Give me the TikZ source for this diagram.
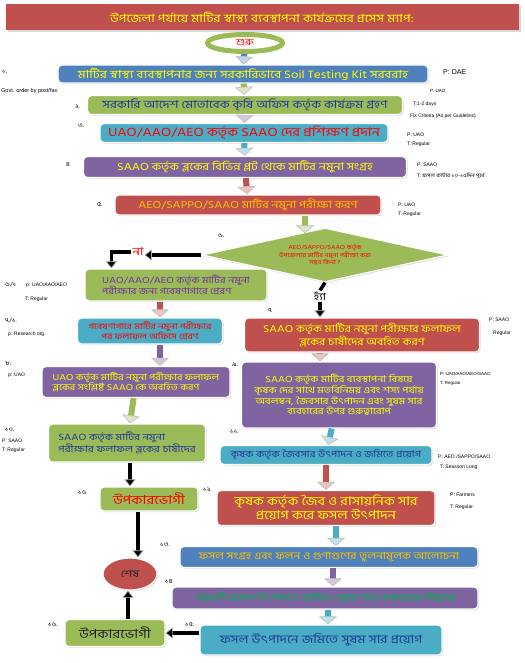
\documentclass[tikz,border=0pt]{standalone}
\usepackage{fontspec}
\setmainfont[Script=Bengali, FakeStretch=1.2]{Hind Siliguri}
\newfontfamily\sidefont{Liberation Sans}
\usepackage{tikz}
\usetikzlibrary{arrows.meta, positioning, shapes.geometric, shadows, calc}
\definecolor{blueb}{HTML}{4F81BD}
\definecolor{greenb}{HTML}{9BBB59}
\definecolor{aquab}{HTML}{4BACC6}
\definecolor{purpb}{HTML}{8064A2}
\definecolor{redb}{HTML}{C0504D}
\definecolor{txtyel}{HTML}{FFFF00}
\definecolor{txtora}{HTML}{FFC000}
\definecolor{txtblue}{HTML}{1F3A93}
\definecolor{txtpurp}{HTML}{7030A0}
\definecolor{txtgreen}{HTML}{00B050}
\newcommand{\fs}[1]{\fontsize{#1}{#1}\selectfont}

\begin{document}
\begin{tikzpicture}[x=1pt, y=-1pt,
  box/.style={rectangle, rounded corners=4pt, draw=white, line width=1.2pt, fill=#1,
              drop shadow={shadow xshift=1pt, shadow yshift=-1.2pt, fill=black!30},
              align=center, inner sep=1pt},
  flow/.style={line width=6pt, draw=#1,
               -{Triangle[width=18pt, length=8pt, line width=0.6pt, fill=#1!35, color=black!25]}},
  bflow/.style={line width=3.5pt, draw=black,
                -{Triangle[width=11pt, length=7pt, line width=0.6pt, fill=black, color=black!30]}},
  num/.style={anchor=west, inner sep=0pt, font=\fs{6}},
  side/.style={anchor=west, inner sep=0pt, font=\sidefont\fs{5}}]

  \useasboundingbox (0,0) rectangle (524,663);

  \node[num] (n1)  at (2,72)   {১.};
  \node[side, font=\sidefont\fs{5.5}] (gov) at (1,91) {Govt. order by post/fax};
  \node[side, font=\sidefont\fs{7}]   (p1)  at (443,72)  {P: DAE};
  \node[side, font=\sidefont\fs{4.5}] (p2)  at (430,91)  {P: UAO};
  \node[side] (t2)  at (413,104) {T:1-2 days};
  \node[side] (fx)  at (410,116) {Fix Criteria (As per Guidelins)};
  \node[num] (n2)  at (75,107)  {২.};
  \node[num] (n3)  at (78,126)  {৩.};
  \node[side] (p3)  at (407,135) {P: UAO};
  \node[side] (t3)  at (407,144) {T: Regular};
  \node[num] (n4)  at (66,165)  {৪};
  \node[side] (p4)  at (417,165) {P: SAAO};
  \node[num, font=\fs{5}] (t4) at (417,176) {{\sidefont T:} ফসল কাটার ১০-১৫দিন পূর্বে};
  \node[num] (n5)  at (97,205)  {৫.};
  \node[side] (p5)  at (398,205) {P: UAO};
  \node[side] (t5)  at (398,214) {T: Regular};
  \node[num] (n6)  at (218,236) {৬.};
  \node[num] (n61) at (5,285)   {৬/১};
  \node[side] (p61) at (26,285) {p: UAO/AAO/AEO};
  \node[side] (t61) at (25,299) {T: Regular};
  \node[num] (n71) at (5,321)   {৭/১.};
  \node[side] (p71) at (8,334)  {p: Research org.};
  \node[num] (n7)  at (268,311) {৭};
  \node[side] (p7)  at (489,320) {P: SAAO};
  \node[side] (t7)  at (493,333) {Regular};
  \node[num] (n8)  at (5,364)   {৮.};
  \node[side] (p8)  at (8,375)  {p: UAO};
  \node[num] (n9)  at (232,365) {৯.};
  \node[side, font=\sidefont\fs{4.5}] (p9) at (440,374) {P: UAO/AAO/AEO/SAAO};
  \node[side, font=\sidefont\fs{4.5}] (t9) at (440,383) {T: Regular};
  \node[num] (n10) at (5,430)   {১০.};
  \node[side] (p10) at (2,441)  {P: SAAO};
  \node[side] (t10) at (2,450)  {T: Regular};
  \node[num] (n11) at (230,432) {১১.};
  \node[side] (p11) at (438,457) {P: AEO /SAPPO/SAAO};
  \node[side] (t11) at (440,467) {T: Seasson Long};
  \node[num] (n16) at (78,493)  {১৬};
  \node[num] (n12) at (203,490) {১২.};
  \node[side] (p12) at (450,495) {P: Farmers};
  \node[side] (t12) at (450,507) {T: Regular};
  \node[num] (n13) at (160,545) {১৩.};
  \node[num] (n14) at (165,582) {১৪};
  \node[num] (n162) at (48,625) {১৬.};
  \node[num] (n15) at (185,625) {১৫.};

  \node[fill=redb, minimum width=513, minimum height=26, inner sep=0pt,
        drop shadow={shadow xshift=2pt, shadow yshift=-2pt, fill=black!30},
        text=txtyel, font=\fs{11.2}] (title) at (262,17.5)
        {উপজেলা পর্যায়ে মাটির স্বাস্থ্য ব্যবস্থাপনা কার্যক্রমের প্রসেস ম্যাপ:};

  \node[ellipse, draw=greenb, line width=5pt, fill=white, minimum width=75, minimum height=17,
        inner sep=0pt, text=red, font=\fs{9.5}] (start) at (245,43) {শুরু};

  \node[box=blueb, minimum width=370, minimum height=18, text=txtyel, font=\fs{11}]
        (kit) at (243,74) {মাটির স্বাস্থ্য  ব্যবস্থাপনার জন্য সরকারিভাবে Soil Testing Kit সরবরাহ};
  \node[box=greenb, minimum width=315, minimum height=19, text=txtblue, font=\fs{11}]
        (order) at (245,105) {সরকারি আদেশ মোতাবেক কৃষি অফিস কর্তৃক কার্যক্রম গ্রহণ};
  \node[box=aquab, minimum width=288, minimum height=19, text=red, font=\fs{12}]
        (train) at (244,133) {UAO/AAO/AEO কর্তৃক SAAO দের প্রশিক্ষণ প্রদান};
  \node[box=purpb, minimum width=323, minimum height=21, text=txtyel, font=\fs{10.5}]
        (collect) at (245,167) {SAAO কর্তৃক ব্লকের বিভিন্ন প্লট থেকে মাটির নমুনা সংগ্রহ};
  \node[box=redb, minimum width=266, minimum height=20, text=txtora, font=\fs{10.3}]
        (test) at (248,205) {AEO/SAPPO/SAAO মাটির নমুনা পরীক্ষা করণ};
  \node[diamond, draw=white, line width=1.2pt, fill=greenb, aspect=4.7, inner sep=0pt,
        minimum width=246, minimum height=54,
        drop shadow={shadow xshift=1pt, shadow yshift=-1.2pt, fill=black!30},
        text=red, align=center, font=\fs{5.8}] (dec) at (325,255)
        {AEO/SAPPO/SAAO কর্তৃক\\উপজেলায় মাটির নমুনা পরীক্ষা করা\\সম্ভব কিনা ?};
  \node[text=red, font=\fs{11}, inner sep=1pt] (na) at (138,252) {না};
  \node[font=\fs{10}, inner sep=1pt] (yes) at (320,296) {হ্যাঁ};

  \node[box=greenb, minimum width=182, minimum height=32, text=txtpurp, font=\fs{9}, align=left]
        (lab) at (176,285) {UAO/AAO/AEO কর্তৃক মাটির নমুনা\\পরীক্ষার জন্য গবেষণাগারে প্রেরণ};
  \node[box=aquab, minimum width=145, minimum height=26, text=red, font=\fs{8.2}]
        (labres) at (150,331) {গবেষণাগারে মাটির নমুনা পরীক্ষার\\পর ফলাফল অফিসে প্রেরণ};
  \node[box=redb, minimum width=235, minimum height=34, text=txtyel, font=\fs{10}]
        (inform) at (362,335) {SAAO কর্তৃক  মাটির নমুনা পরীক্ষার ফলাফল\\ব্লকের চাষীদের অবহিত করণ};
  \node[box=purpb, minimum width=188, minimum height=31, text=txtyel, font=\fs{8.7}, align=left]
        (uaoinf) at (136,382) {UAO কর্তৃক মাটির নমুনা পরীক্ষার ফলাফল\\ব্লকের সংশ্লিষ্ট SAAO কে অবহিত করণ};
  \node[box=purpb, minimum width=195, minimum height=66, text=txtyel, font=\fs{9}]
        (discuss) at (339,395) {SAAO কর্তৃক মাটির ব্যবস্থাপনা বিষয়ে\\কৃষক দের সাথে মতবিনিময় এবং শস্য পর্যায়\\অবলম্বন, জৈবসার উৎপাদন এবং সুষম সার\\ব্যবহারের উপর গুরুত্বারোপ};
  \node[box=greenb, minimum width=157, minimum height=38, text=txtblue, font=\fs{9.3}, align=left]
        (farmer) at (127,443) {SAAO কর্তৃক মাটির নমুনা\\পরীক্ষার ফলাফল ব্লকের চাষীদের};
  \node[box=aquab, minimum width=212, minimum height=19, text=txtblue, font=\fs{9.2}]
        (compost) at (326,455) {কৃষক  কর্তৃক জৈবসার উৎপাদন  ও জমিতে প্রয়োগ};
  \node[box=greenb, minimum width=98, minimum height=24, text=red, font=\fs{12.5}]
        (benef) at (149,499) {উপকারভোগী};
  \node[box=redb, minimum width=218, minimum height=35, text=txtyel, font=\fs{12}]
        (produce) at (326,508) {কৃষক কর্তৃক জৈব ও রাসায়নিক সার\\প্রয়োগ করে ফসল উৎপাদন};
  \node[box=blueb, minimum width=298, minimum height=21, text=txtora, font=\fs{10}]
        (compare) at (329,557) {ফসল সংগ্রহ এবং ফলন ও গুণাগুণের তুলনামূলক আলোচনা};
  \node[ellipse, draw=white, line width=1.2pt, fill=redb, minimum width=54, minimum height=32,
        inner sep=0pt, drop shadow={shadow xshift=1pt, shadow yshift=-1.2pt, fill=black!30},
        text=black!85, font=\fs{10}] (finish) at (130,574) {শেষ};
  \node[box=purpb, minimum width=306, minimum height=22, text=txtgreen, font=\fs{10.2}]
        (decide) at (325,598) {পরবর্তী ফসল উৎপাদনে জমিতে সুষম সার ব্যবহারের সিদ্ধান্ত};
  \node[box=aquab, minimum width=242, minimum height=30, text=txtblue, font=\fs{11.5}]
        (apply) at (321,640) {ফসল উৎপাদনে জমিতে সুষম সার প্রয়োগ};
  \node[box=greenb, minimum width=100, minimum height=27, text=black!85, font=\fs{12.5}]
        (benef2) at (115,633) {উপকারভোগী};

  \draw[flow=blueb]   (start) -- (kit);
  \draw[flow=greenb]  (kit) -- (order);
  \draw[flow=purpb]   (order) -- (train);
  \draw[flow=aquab]   (train) -- (collect);
  \draw[flow=redb]    (collect) -- (test);
  \draw[flow=greenb]  ($(test.south -| dec.north)+(-20,0)$) -- ($(dec.north)+(-20,6)$);
  \draw[bflow] (dec.west) -- (dec.west -| na.east);
  \draw[bflow] (na.west) -| ($(lab.north west)+(27,0)$);
  \draw[line width=3.5pt] (dec.south) -- (yes.north);
  \draw[bflow] (yes.south) -- (yes.south |- inform.north);
  \draw[flow=redb]    ($(lab.south)+(-16,0)$) -- ($(labres.north)+(10,0)$);
  \draw[flow=purpb]   ($(labres.south)+(10,0)$) -- ($(uaoinf.north)+(24,0)$);
  \draw[flow=greenb]  (uaoinf) -- (farmer);
  \draw[flow=redb]    ($(inform.south)+(-42,0)$) -- ($(discuss.north)+(-19,0)$);
  \draw[flow=aquab]   (discuss) -- (compost);
  \draw[flow=redb]    (compost) -- (produce);
  \draw[flow=aquab]   ($(produce.south)+(10,0)$) -- ($(compare.north)+(7,0)$);
  \draw[flow=purpb]   ($(compare.south)+(4,0)$) -- ($(decide.north)+(8,0)$);
  \draw[flow=aquab]   ($(decide.south)+(3,0)$) -- ($(apply.north)+(7,0)$);
  \draw[bflow] ($(farmer.south)+(3,0)$) -- ($(benef.north)+(-19,0)$);
  \draw[bflow] ($(benef.south)+(-11,0)$) -- ($(finish.north)+(8,0)$);
  \draw[bflow] (apply.west |- benef2.east) -- (benef2.east);
  \draw[bflow] ($(benef2.north)+(13,0)$) -- ($(finish.south)+(-2,0)$);
\end{tikzpicture}
\end{document}
